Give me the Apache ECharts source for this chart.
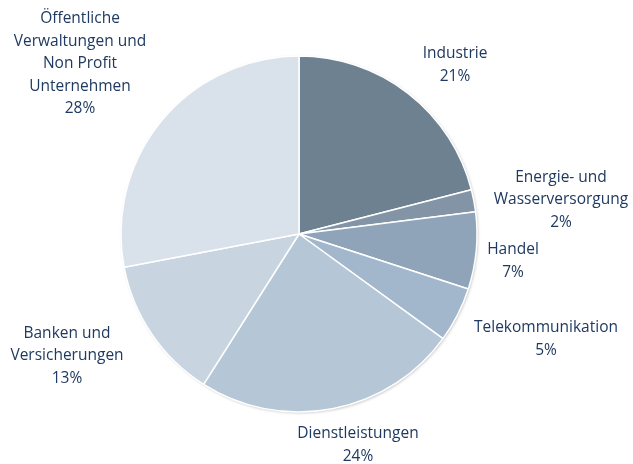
<!DOCTYPE html>
<html>
<head>
<meta charset="utf-8">
<script src="https://cdn.jsdelivr.net/npm/echarts@6/dist/echarts.min.js"></script>
<style>
  html, body { margin: 0; padding: 0; background: #fff; }
  #chart { width: 633px; height: 464px; }
</style>
</head>
<body>
<div id="chart"></div>
<script>
const categories = [
  'Industrie',
  'Energie- und\nWasserversorgung',
  'Handel',
  'Telekommunikation',
  'Dienstleistungen',
  'Banken und\nVersicherungen',
  'Öffentliche\nVerwaltungen und\nNon Profit\nUnternehmen',
]
const values = [21, 2, 7, 5, 24, 13, 28]
const colors = ['#6e8190', '#8294a6', '#8fa4b9', '#a2b7cb', '#b5c6d7', '#c8d4df', '#d9e1ea']
// Label centres, as placed in the original
const labelPos = [
  [455, 65], [561, 200], [513, 261], [546, 339], [358, 445], [67, 356], [80, 64],
]

const chart = echarts.init(document.getElementById('chart'))
chart.setOption({
  animation: false,
  series: [
    {
      // soft shadow under the whole disc
      type: 'pie',
      silent: true,
      center: [299, 234],
      radius: 178,
      label: { show: false },
      labelLine: { show: false },
      itemStyle: {
        color: '#fff',
        shadowColor: 'rgba(0,0,0,0.25)',
        shadowBlur: 3,
        shadowOffsetX: 1,
        shadowOffsetY: 1,
      },
      data: [{ value: 1, name: '' }],
      z: 1,
    },
    {
      type: 'pie',
      center: [299, 234],
      radius: 178,
      startAngle: 90,
      clockwise: true,
      z: 2,
      label: {
        show: true,
        position: 'outside',
        formatter: (p) => `${p.name}\n${p.value}%`,
        color: '#1f3a60',
        fontFamily: 'Open Sans',
        fontSize: 15.5,
        lineHeight: 22.5,
        align: 'center',
        overflow: 'none',
        width: 300,
      },
      labelLine: { show: false },
      labelLayout: (params) => ({
        x: labelPos[params.dataIndex][0],
        y: labelPos[params.dataIndex][1],
        align: 'center',
        verticalAlign: 'middle',
        hideOverlap: false,
      }),
      itemStyle: {
        borderColor: '#fff',
        borderWidth: 1.5,
      },
      emphasis: { disabled: true },
      data: categories.map((name, i) => ({
        name,
        value: values[i],
        itemStyle: { color: colors[i] },
      })),
    },
  ],
})
</script>
</body>
</html>
